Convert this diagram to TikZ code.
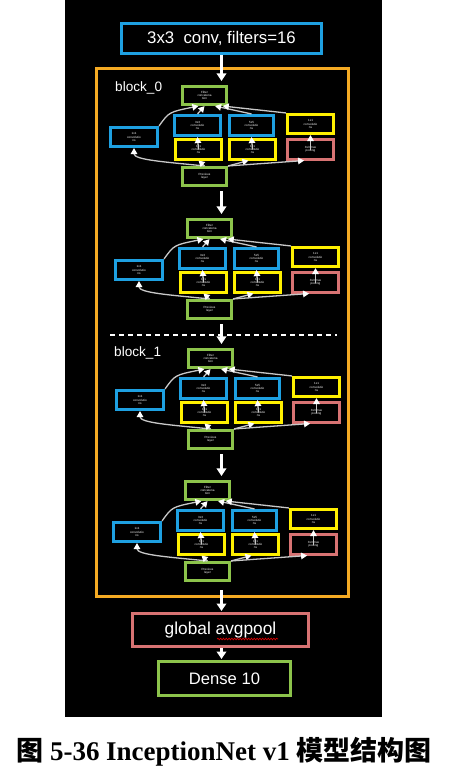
\documentclass[tikz,border=0pt]{standalone}
\usepackage{fontspec}
\setmainfont{Liberation Serif}
\setsansfont{Liberation Sans}
\newfontfamily\cjk{Noto Sans CJK SC}
\usetikzlibrary{arrows.meta,decorations.pathmorphing,calc}
\definecolor{cblue}{RGB}{30,160,225}
\definecolor{corange}{RGB}{245,170,35}
\definecolor{cyellow}{RGB}{255,240,0}
\definecolor{cgreen}{RGB}{140,195,75}
\definecolor{cpink}{RGB}{215,115,115}
\definecolor{cline}{RGB}{200,200,200}
\begin{document}
\begin{tikzpicture}[x=1pt,y=-1pt,
  mbox/.style={draw,line width=2.6,fill=black,text=white,inner sep=0pt,align=center,
    font=\sffamily\fontsize{3}{3.4}\selectfont},
  bigbox/.style={draw,fill=black,text=white,inner sep=0pt,line width=3},
  conn/.style={draw=cline,line width=1.3,-{Triangle[width=6.5,length=6,color=white]}},
  mainarrow/.style={draw=white,line width=2.5,-{Triangle[width=9.5,length=7.5]}},
  lbl/.style={text=white,font=\sffamily\fontsize{13.6}{15}\selectfont,anchor=west,inner sep=0pt}]
\useasboundingbox (0,0) rectangle (450,766);
\fill[white] (0,0) rectangle (450,766);
\fill[black] (65,0) rectangle (382,717);

% outer block frame
\node[draw=corange,line width=3,minimum width=252,minimum height=528,inner sep=0pt] (blk) at (222.5,332.5) {};

% top, bottom boxes
\node[bigbox,draw=cblue,line width=3.5,minimum width=200,minimum height=30,
  font=\sffamily\fontsize{16.8}{18}\selectfont] (top) at (221.5,38.5) {3x3\ \ conv, filters=16};
\node[bigbox,draw=cpink,minimum width=176,minimum height=33,
  font=\sffamily\fontsize{17.3}{19}\selectfont] (avg) at (220.5,630) {\raisebox{-2.5pt}{global avgpool}};
\node[bigbox,draw=cgreen,minimum width=132,minimum height=34,
  font=\sffamily\fontsize{16.6}{18}\selectfont] (dense) at (224.5,678.5) {Dense 10};
\coordinate (wavyA) at (217,639);
\coordinate (wavyB) at (278,639);
\draw[red!85!black,line width=0.7,decorate,decoration={snake,amplitude=0.8,segment length=2.8}] (wavyA) -- (wavyB);

\node[lbl] (lb0) at (115,88) {block\_0};
\node[lbl] (lb1) at (114,353) {block\_1};

\coordinate (dashA) at (110,335);
\coordinate (dashB) at (337,335);
\draw[white,line width=1.2,dash pattern=on 5 off 4] (dashA) -- (dashB);

% inception modules
\foreach \m/\ox/\oy in {a/181/85,b/186/218,c/187/348,d/184/480}{
\begin{scope}[shift={(\ox,\oy)}]
  \node[mbox,draw=cgreen,minimum width=44.5,minimum height=18.5] (\m-fc) at (23.5,10.5) {Filter\\concatena\\tion};
  \node[mbox,draw=cblue,minimum width=46.5,minimum height=20.5] (\m-c3) at (16.5,40.5) {3x3\\convolutio\\ns};
  \node[mbox,draw=cblue,minimum width=44.5,minimum height=20.5] (\m-c5) at (70.5,40.5) {5x5\\convolutio\\ns};
  \node[mbox,draw=cyellow,minimum width=46.5,minimum height=19.5] (\m-r1) at (129.5,39) {1x1\\convolutio\\ns};
  \node[mbox,draw=cblue,minimum width=47.5,minimum height=19.5] (\m-l1) at (-47,52) {1x1\\convolutio\\ns};
  \node[mbox,draw=cyellow,minimum width=46.5,minimum height=19.5] (\m-y3) at (17.5,64.5) {1x1\\convolutio\\ns};
  \node[mbox,draw=cyellow,minimum width=46.5,minimum height=19.5] (\m-y5) at (71.5,64.5) {1x1\\convolutio\\ns};
  \node[mbox,draw=cpink,minimum width=46.5,minimum height=19.5] (\m-mp) at (129.5,64.5) {3x3 max\\pooling};
  \node[mbox,draw=cgreen,minimum width=44.5,minimum height=18.5] (\m-pl) at (23.5,91.5) {Previous\\layer};
  % connectors
  \draw[conn] (\m-pl.north) .. controls (-15,77) and (-47,75) .. (\m-l1.south);
  \draw[conn] (\m-pl.north) -- (\m-y3.south);
  \draw[conn] (\m-pl.north east) -- (\m-y5.250);
  \draw[conn] (\m-pl.north east) -- (\m-mp.240);
  \draw[conn] (\m-y3.center) -- (\m-c3.south);
  \draw[conn] (\m-y5.center) -- (\m-c5.south);
  \draw[conn] (\m-mp.center) -- (\m-r1.south);
  \draw[conn] (\m-l1.north east) .. controls (-12,27) .. (\m-fc.240);
  \draw[conn] (\m-c3.north) -- (\m-fc.south);
  \draw[conn] (\m-c5.north) -- (\m-fc.315);
  \draw[conn] (\m-r1.north west) -- (\m-fc.330);
\end{scope}
}

% main arrows
\draw[mainarrow,shorten >=4pt] (top.south) -- (top.south |- a-fc.north);
\draw[mainarrow,shorten <=4pt,shorten >=4pt] (top.south |- a-pl.south) -- (top.south |- b-fc.north);
\draw[mainarrow,shorten <=4pt,shorten >=4pt] (top.south |- b-pl.south) -- (top.south |- c-fc.north);
\draw[mainarrow,shorten <=4pt,shorten >=4pt] (top.south |- c-pl.south) -- (top.south |- d-fc.north);
\draw[mainarrow,shorten <=8pt,shorten >=1pt] (top.south |- d-pl.south) -- (top.south |- avg.north);
\draw[mainarrow,shorten >=1pt] (avg.south -| top.south) -- (top.south |- dense.north);

% caption
\node[inner sep=0pt,text=black,font=\fontsize{27}{30}\selectfont\bfseries] (cap) at (224,752)
  {{\cjk\bfseries 图}\ 5-36 InceptionNet v1\ {\cjk\bfseries 模型结构图}};
\end{tikzpicture}
\end{document}
